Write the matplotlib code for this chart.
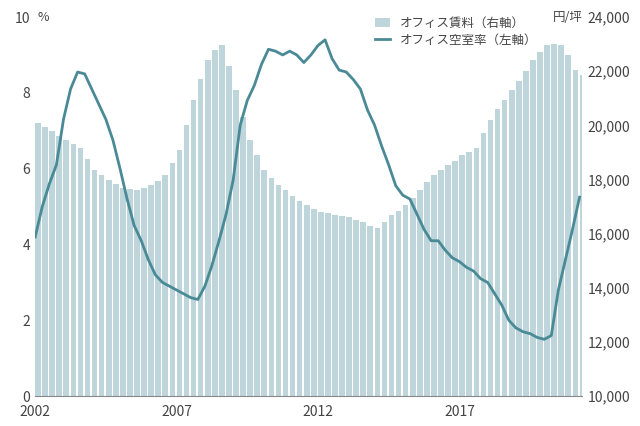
import matplotlib
matplotlib.use("Agg")
import matplotlib.pyplot as plt
import numpy as np

plt.rcParams['font.family'] = ['Noto Sans CJK JP', 'DejaVu Sans']

start_year = 2002.0
vacancy = [4.2,5.0,5.6,6.1,7.3,8.1,8.55,8.5,8.1,7.7,7.3,6.75,6.0,5.2,4.5,4.1,
           3.6,3.2,3.0,2.9,2.8,2.7,2.6,2.55,2.9,3.45,4.1,4.8,5.7,7.15,7.8,8.2,
           8.75,9.15,9.1,9.0,9.1,9.0,8.8,9.0,9.25,9.4,8.9,8.6,8.55,8.35,8.1,7.55,
           7.15,6.6,6.1,5.55,5.3,5.2,4.8,4.4,4.1,4.1,3.85,3.65,3.55,3.4,3.3,3.1,
           3.0,2.7,2.4,2.0,1.8,1.7,1.65,1.55,1.5,1.6,2.8,3.6,4.4,5.25]
rent = [20100,19950,19800,19600,19450,19300,19150,18750,18350,18150,18000,17850,17700,17650,17600,17700,
        17800,17950,18150,18600,19100,20000,20950,21700,22400,22800,22950,22200,21300,20300,19450,18900,
        18350,18050,17800,17600,17400,17200,17050,16900,16800,16750,16700,16650,16600,16500,16450,16300,
        16200,16450,16700,16850,17050,17300,17600,17900,18150,18350,18550,18700,18900,19000,19150,19700,
        20200,20600,20950,21300,21650,22000,22400,22700,22950,23000,22950,22600,22050,21850]
years = start_year + np.arange(len(vacancy)) * 0.25
xticks = [2002, 2007, 2012, 2017]
left_ticks = [0, 2, 4, 6, 8, 10]
right_ticks = [10000, 12000, 14000, 16000, 18000, 20000, 22000, 24000]

fig = plt.figure(figsize=(6.4, 4.26), dpi=100)
ax = fig.add_axes([0.055, 0.07, 0.855, 0.89])
ax2 = ax.twinx()
ax.set_zorder(2); ax.patch.set_visible(False)

ax2.bar(years, rent, width=0.25*0.8, bottom=0, color='#bdd5db', align='edge', label='オフィス賃料（右軸）')
ax2.set_ylim(10000, 24000)
ax2.set_yticks(right_ticks)
ax2.set_yticklabels([f"{v:,}" for v in right_ticks])
ax.plot(years, vacancy, color='#4a8a96', lw=2, label='オフィス空室率（左軸）')
ax.set_ylim(0, 10)
ax.set_yticks(left_ticks)
ax.set_xlim(2002, 2021.35)
ax.set_xticks(xticks)
for a in (ax, ax2):
    for s in a.spines.values():
        s.set_visible(False)
    a.tick_params(length=0, labelsize=10, colors='#444444')
ax.spines['bottom'].set_visible(True); ax.spines['bottom'].set_color('#888888')
ax.tick_params(axis='x', pad=6)
ax.text(0.005, 1.0, '%', transform=ax.transAxes, fontsize=9, color='#444444', ha='left', va='center')
ax.text(1.0, 1.0, '円/坪', transform=ax.transAxes, fontsize=9, color='#444444', ha='right', va='center')
h1, l1 = ax2.get_legend_handles_labels()
h2, l2 = ax.get_legend_handles_labels()
ax.legend(h1 + h2, l1 + l2, loc='upper left', bbox_to_anchor=(0.6, 1.03), frameon=False, fontsize=9,
          handlelength=1.2, labelspacing=0.3, labelcolor='#444444')
fig.savefig('out.png', dpi=100)
